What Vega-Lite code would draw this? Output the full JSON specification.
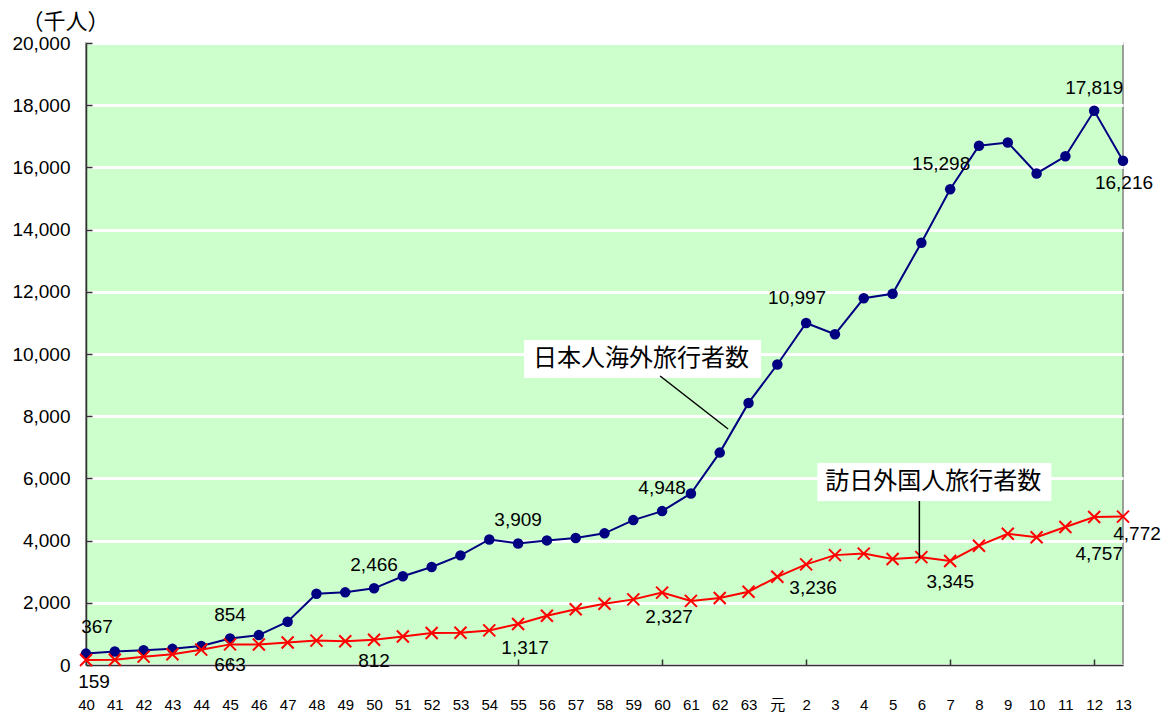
{
  "$schema": "https://vega.github.io/schema/vega-lite/v6.json",
  "width": 1037,
  "height": 622,
  "autosize": {"type": "none"},
  "padding": {"left": 86, "top": 43, "right": 45, "bottom": 50},
  "background": "white",
  "config": {
    "view": {"fill": "#CCFFCC", "stroke": "#808080", "strokeWidth": 1.5},
    "axisY": {
      "labelFont": "Liberation Sans",
      "labelFontSize": 19,
      "labelColor": "#000000",
      "labelPadding": 22,
      "tickSize": -6,
      "tickColor": "#333333",
      "tickWidth": 1.5,
      "gridColor": "#FFFFFF",
      "gridWidth": 3,
      "gridOpacity": 1,
      "domainColor": "#333333",
      "domainWidth": 1.5,
      "titleAngle": 0,
      "titleAlign": "left",
      "titleBaseline": "middle",
      "titleX": -65,
      "titleY": -22,
      "titleFont": "Noto Sans CJK JP",
      "titleFontSize": 22,
      "titleFontWeight": "normal",
      "titleColor": "#000000"
    }
  },
  "datasets": {
    "tourism": [
      {"year": "40", "jp": 367, "vis": 159},
      {"year": "41", "jp": 433, "vis": 170},
      {"year": "42", "jp": 477, "vis": 268},
      {"year": "43", "jp": 519, "vis": 344},
      {"year": "44", "jp": 609, "vis": 493},
      {"year": "45", "jp": 854, "vis": 663},
      {"year": "46", "jp": 961, "vis": 660},
      {"year": "47", "jp": 1392, "vis": 724},
      {"year": "48", "jp": 2289, "vis": 785},
      {"year": "49", "jp": 2336, "vis": 764},
      {"year": "50", "jp": 2466, "vis": 812},
      {"year": "51", "jp": 2853, "vis": 915},
      {"year": "52", "jp": 3151, "vis": 1028},
      {"year": "53", "jp": 3525, "vis": 1039},
      {"year": "54", "jp": 4038, "vis": 1113},
      {"year": "55", "jp": 3909, "vis": 1317},
      {"year": "56", "jp": 4006, "vis": 1583},
      {"year": "57", "jp": 4086, "vis": 1793},
      {"year": "58", "jp": 4233, "vis": 1968},
      {"year": "59", "jp": 4659, "vis": 2110},
      {"year": "60", "jp": 4948, "vis": 2327},
      {"year": "61", "jp": 5516, "vis": 2062},
      {"year": "62", "jp": 6829, "vis": 2155},
      {"year": "63", "jp": 8427, "vis": 2355},
      {"year": "元", "jp": 9663, "vis": 2835},
      {"year": "2", "jp": 10997, "vis": 3236},
      {"year": "3", "jp": 10634, "vis": 3533},
      {"year": "4", "jp": 11791, "vis": 3582},
      {"year": "5", "jp": 11934, "vis": 3410},
      {"year": "6", "jp": 13579, "vis": 3468},
      {"year": "7", "jp": 15298, "vis": 3345},
      {"year": "8", "jp": 16695, "vis": 3837},
      {"year": "9", "jp": 16803, "vis": 4218},
      {"year": "10", "jp": 15806, "vis": 4106},
      {"year": "11", "jp": 16358, "vis": 4438},
      {"year": "12", "jp": 17819, "vis": 4757},
      {"year": "13", "jp": 16216, "vis": 4772}
    ]
  },
  "data": {"name": "tourism"},
  "encoding": {
    "x": {
      "field": "year",
      "type": "ordinal",
      "sort": null,
      "scale": {
        "type": "point",
        "padding": 0,
        "domain": ["40","41","42","43","44","45","46","47","48","49","50","51","52","53","54","55","56","57","58","59","60","61","62","63","元","2","3","4","5","6","7","8","9","10","11","12","13"]
      },
      "axis": {
        "title": null,
        "labelAngle": 0,
        "labelFont": "Liberation Sans, Noto Sans CJK JP, sans-serif",
        "labelFontSize": 15,
        "labelColor": "#000000",
        "labelPadding": 38,
        "tickSize": -6,
        "tickColor": "#333333",
        "tickWidth": 1.5,
        "tickOpacity": {"condition": {"test": "indexof(['45','50','55','60','2','7','12'], datum.value) >= 0", "value": 1}, "value": 0},
        "gridColor": "#FFFFFF",
        "gridWidth": 3,
        "gridOpacity": {"condition": {"test": "indexof(['45','50','55','60','2','7','12'], datum.value) >= 0", "value": 1}, "value": 0},
        "domainColor": "#333333",
        "domainWidth": 1.5
      }
    }
  },
  "layer": [
    {
      "mark": {"type": "line", "color": "#000080", "strokeWidth": 2},
      "encoding": {
        "y": {
          "field": "jp",
          "type": "quantitative",
          "scale": {"domain": [0, 20000]},
          "axis": {
            "title": "（千人）",
            "grid": true,
            "values": [0, 2000, 4000, 6000, 8000, 10000, 12000, 14000, 16000, 18000, 20000],
            "labelExpr": "format(datum.value, ',')"
          }
        }
      }
    },
    {
      "mark": {"type": "point", "shape": "circle", "filled": true, "color": "#000080", "size": 110, "opacity": 1},
      "encoding": {"y": {"field": "jp", "type": "quantitative"}}
    },
    {
      "mark": {"type": "line", "color": "#FF0000", "strokeWidth": 2},
      "encoding": {"y": {"field": "vis", "type": "quantitative"}}
    },
    {
      "mark": {"type": "point", "shape": "M-1,-1L1,1M-1,1L1,-1", "filled": false, "stroke": "#FF0000", "strokeWidth": 2, "size": 144, "opacity": 1},
      "encoding": {"y": {"field": "vis", "type": "quantitative"}}
    },
    {
      "transform": [{"filter": {"field": "year", "oneOf": ["45", "50", "55", "60", "12"]}}],
      "mark": {"type": "text", "font": "Liberation Sans", "fontSize": 19, "color": "#000000", "align": "center", "baseline": "middle", "dy": -23},
      "encoding": {"y": {"field": "jp", "type": "quantitative"}, "text": {"field": "jp", "format": ","}}
    },
    {
      "transform": [{"filter": {"field": "year", "oneOf": ["40"]}}],
      "mark": {"type": "text", "font": "Liberation Sans", "fontSize": 19, "color": "#000000", "align": "center", "baseline": "middle", "dx": 11, "dy": -27},
      "encoding": {"y": {"field": "jp", "type": "quantitative"}, "text": {"field": "jp", "format": ","}}
    },
    {
      "transform": [{"filter": {"field": "year", "oneOf": ["2", "7"]}}],
      "mark": {"type": "text", "font": "Liberation Sans", "fontSize": 19, "color": "#000000", "align": "center", "baseline": "middle", "dx": -9, "dy": -25},
      "encoding": {"y": {"field": "jp", "type": "quantitative"}, "text": {"field": "jp", "format": ","}}
    },
    {
      "transform": [{"filter": {"field": "year", "oneOf": ["13"]}}],
      "mark": {"type": "text", "font": "Liberation Sans", "fontSize": 19, "color": "#000000", "align": "center", "baseline": "middle", "dx": 1, "dy": 22},
      "encoding": {"y": {"field": "jp", "type": "quantitative"}, "text": {"field": "jp", "format": ","}}
    },
    {
      "transform": [{"filter": {"field": "year", "oneOf": ["45", "50", "7"]}}],
      "mark": {"type": "text", "font": "Liberation Sans", "fontSize": 19, "color": "#000000", "align": "center", "baseline": "middle", "dy": 21},
      "encoding": {"y": {"field": "vis", "type": "quantitative"}, "text": {"field": "vis", "format": ","}}
    },
    {
      "transform": [{"filter": {"field": "year", "oneOf": ["40"]}}],
      "mark": {"type": "text", "font": "Liberation Sans", "fontSize": 19, "color": "#000000", "align": "center", "baseline": "middle", "dx": 8, "dy": 22},
      "encoding": {"y": {"field": "vis", "type": "quantitative"}, "text": {"field": "vis", "format": ","}}
    },
    {
      "transform": [{"filter": {"field": "year", "oneOf": ["55", "60", "2"]}}],
      "mark": {"type": "text", "font": "Liberation Sans", "fontSize": 19, "color": "#000000", "align": "center", "baseline": "middle", "dx": 7, "dy": 24},
      "encoding": {"y": {"field": "vis", "type": "quantitative"}, "text": {"field": "vis", "format": ","}}
    },
    {
      "transform": [{"filter": {"field": "year", "oneOf": ["12"]}}],
      "mark": {"type": "text", "font": "Liberation Sans", "fontSize": 19, "color": "#000000", "align": "center", "baseline": "middle", "dx": 5, "dy": 37},
      "encoding": {"y": {"field": "vis", "type": "quantitative"}, "text": {"field": "vis", "format": ","}}
    },
    {
      "transform": [{"filter": {"field": "year", "oneOf": ["13"]}}],
      "mark": {"type": "text", "font": "Liberation Sans", "fontSize": 19, "color": "#000000", "align": "center", "baseline": "middle", "dx": 14, "dy": 17},
      "encoding": {"y": {"field": "vis", "type": "quantitative"}, "text": {"field": "vis", "format": ","}}
    },
    {
      "data": {"values": [{"label": "日本人海外旅行者数", "year": "60", "value": 9840}]},
      "layer": [
        {
          "mark": {"type": "rect", "fill": "#FFFFFF", "xOffset": -138, "x2Offset": 99, "yOffset": -19, "y2Offset": 19},
          "encoding": {"x2": {"field": "year"}, "y": {"field": "value", "type": "quantitative"}, "y2": {"field": "value"}}
        },
        {
          "mark": {"type": "text", "font": "Noto Sans CJK JP", "fontSize": 24, "color": "#000000", "align": "center", "baseline": "middle", "dx": -21},
          "encoding": {"y": {"field": "value", "type": "quantitative"}, "text": {"field": "label"}}
        },
        {
          "mark": {"type": "rule", "color": "#000000", "strokeWidth": 1.5, "xOffset": -2, "yOffset": 17, "x2Offset": 66, "y2Offset": 70},
          "encoding": {"x2": {"field": "year"}, "y": {"field": "value", "type": "quantitative"}, "y2": {"field": "value"}}
        }
      ]
    },
    {
      "data": {"values": [{"label": "訪日外国人旅行者数", "year": "6", "value": 5885}]},
      "layer": [
        {
          "mark": {"type": "rect", "fill": "#FFFFFF", "xOffset": -104, "x2Offset": 130, "yOffset": -19, "y2Offset": 19},
          "encoding": {"x2": {"field": "year"}, "y": {"field": "value", "type": "quantitative"}, "y2": {"field": "value"}}
        },
        {
          "mark": {"type": "text", "font": "Noto Sans CJK JP", "fontSize": 24, "color": "#000000", "align": "center", "baseline": "middle", "dx": 12},
          "encoding": {"y": {"field": "value", "type": "quantitative"}, "text": {"field": "label"}}
        },
        {
          "mark": {"type": "rule", "color": "#000000", "strokeWidth": 1.5, "xOffset": -2, "yOffset": 19, "x2Offset": -2, "y2Offset": 76},
          "encoding": {"x2": {"field": "year"}, "y": {"field": "value", "type": "quantitative"}, "y2": {"field": "value"}}
        }
      ]
    }
  ]
}
